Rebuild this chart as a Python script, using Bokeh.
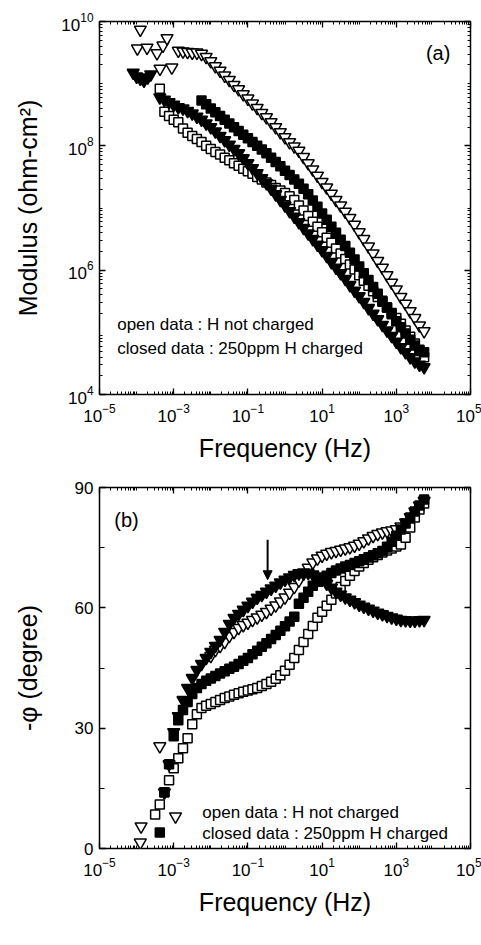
import math
from bokeh.plotting import figure
from bokeh.layouts import column
from bokeh.models import FixedTicker, LogAxis, LinearAxis, Label, Arrow, NormalHead
from bokeh.embed import file_html
from bokeh.resources import INLINE

nan = float("nan")

# ---------------- data ----------------
# frequency sweep (Hz), 8 points per decade
freq = [3.16e-4, 4.22e-4, 5.62e-4, 7.50e-4,
        1.00e-3, 1.33e-3, 1.78e-3, 2.37e-3, 3.16e-3, 4.22e-3, 5.62e-3, 7.50e-3,
        1.00e-2, 1.33e-2, 1.78e-2, 2.37e-2, 3.16e-2, 4.22e-2, 5.62e-2, 7.50e-2,
        1.00e-1, 1.33e-1, 1.78e-1, 2.37e-1, 3.16e-1, 4.22e-1, 5.62e-1, 7.50e-1,
        1.00, 1.33, 1.78, 2.37, 3.16, 4.22, 5.62, 7.50,
        10.0, 13.3, 17.8, 23.7, 31.6, 42.2, 56.2, 75.0,
        100, 133, 178, 237, 316, 422, 562, 750,
        1000, 1330, 1780, 2370, 3160, 4220, 5620]

# (a) log10 of modulus (ohm-cm2)
logmod_open_tri = [nan, nan, nan, nan, nan,
    9.53, 9.52, 9.51, 9.50, 9.50, 9.48, 9.43, 9.36, 9.28, 9.21,
    9.13, 9.06, 8.98, 8.91, 8.83, 8.76, 8.68, 8.61, 8.53, 8.46,
    8.38, 8.30, 8.22, 8.14, 8.06, 7.99, 7.92, 7.82, 7.72, 7.62,
    7.52, 7.42, 7.33, 7.23, 7.13, 7.04, 6.94, 6.84, 6.73, 6.61,
    6.50, 6.38, 6.27, 6.15, 6.04, 5.92, 5.80, 5.69, 5.57, 5.46,
    5.34, 5.23, 5.11, 5.02]
logmod_open_sq = [nan,
    8.92, 8.55, 8.48, 8.42, 8.38, 8.28, 8.21, 8.16, 8.11, 8.06,
    8.00, 7.95, 7.90, 7.86, 7.81, 7.77, 7.72, 7.68, 7.63, 7.59,
    7.55, 7.50, 7.46, 7.41, 7.37, 7.32, 7.28, 7.24,
    7.19, 7.13, 7.04, 6.96, 6.87, 6.78, 6.70, 6.61,
    6.52, 6.44, 6.35, 6.27, 6.18, 6.09, 6.01, 5.92,
    5.83, 5.75, 5.66, 5.57, 5.49, 5.40, 5.31, 5.23,
    5.14, 5.03, 4.93, 4.82, 4.70, 4.60]
logmod_closed_tri = [nan,
    8.78, 8.74, 8.70, 8.66, 8.62, 8.60, 8.56, 8.52, 8.47, 8.42,
    8.36, 8.30, 8.23, 8.16, 8.09, 8.02, 7.95, 7.88, 7.80, 7.72,
    7.64, 7.56, 7.48, 7.40, 7.31, 7.22, 7.13, 7.04, 6.95, 6.86,
    6.77, 6.68, 6.59, 6.50, 6.41, 6.32, 6.23, 6.13, 6.04, 5.95,
    5.86, 5.76, 5.67, 5.58, 5.49, 5.39, 5.30, 5.21, 5.12, 5.03,
    4.94, 4.85, 4.76, 4.68, 4.60, 4.53, 4.48, 4.44]
logmod_closed_sq = [nan, nan, nan, nan, nan, nan, nan, nan, nan, nan,
    8.73, 8.67, 8.60, 8.54, 8.48, 8.42, 8.36, 8.30, 8.24, 8.18,
    8.12, 8.06, 8.00, 7.94, 7.88, 7.81, 7.74, 7.67, 7.60, 7.53,
    7.46, 7.39, 7.31, 7.22, 7.12, 7.02, 6.91, 6.81, 6.70, 6.60,
    6.49, 6.39, 6.28, 6.17, 6.06, 5.95, 5.84, 5.73, 5.62, 5.51,
    5.40, 5.29, 5.18, 5.08, 4.98, 4.88, 4.79, 4.72, 4.68]

# (a) scattered low-frequency points
open_tri_low_freq = [1.26e-4, 1.05e-4, 1.91e-4, 3.55e-4, 5.13e-4, 6.61e-4, 4.27e-4, 8.91e-4]
open_tri_low_mod = [7.4e9, 3.7e9, 3.8e9, 3.1e9, 4.1e9, 5.4e9, 1.74e9, 1.82e9]
closed_tri_low_freq = [8.1e-5, 1.0e-4, 1.26e-4, 1.58e-4, 2.0e-4, 2.4e-4]
closed_tri_low_mod = [1.5e9, 1.3e9, 1.2e9, 1.12e9, 1.26e9, 1.41e9]

# (b) -phase angle (degree)
phase_open_tri = [nan, 25.5, nan, nan, nan, nan, nan, nan, nan, nan, nan, nan,
    48.0, 49.5, 50.5, 51.5, 53.0, 54.0, 55.0, 55.7, 56.3, 57.0, 57.6, 58.3, 59.0,
    59.8, 60.6, 61.6, 62.6, 63.8, 65.2, 66.8, 68.5, 70.0, 71.3,
    72.3, 73.0, 73.5, 73.9, 74.2, 74.5, 74.8, 75.1, 75.5, 76.0,
    76.6, 77.3, 77.9, 78.4, 78.8, 79.1, 79.3, 79.6, 80.3, 81.3,
    82.6, 84.0, 85.5, 86.7]
phase_open_sq = [8.5, 11.0, 14.0, 17.0, 20.0, 22.5, 25.0, 27.5, 31.0, 33.5,
    35.0, 35.6, 36.0, 36.5, 37.0, 37.5, 37.9, 38.3, 38.7, 39.1,
    39.4, 39.7, 40.0, 40.5, 41.0, 41.6, 42.3, 43.2, 44.3, 45.8,
    47.5, 49.5, 51.5, 53.5, 55.5, 57.5, 59.0, 60.5, 62.0, 63.6,
    65.2, 66.7, 68.0, 69.2, 70.3, 71.2, 72.0, 72.6, 73.2, 73.8,
    74.3, 74.8, 75.3, 75.8, 77.5, 80.0, 82.5, 84.5, 86.0]
phase_closed_tri = [nan, nan,
    14.0, 21.0, 29.0, 33.0, 37.0, 40.0, 42.5, 44.5, 46.0, 47.5,
    49.0, 50.5, 52.0, 54.0, 56.0, 57.5, 58.5, 59.5, 60.5, 61.5,
    62.5, 63.2, 64.0, 64.8, 65.5, 66.3, 67.0, 67.6, 68.2, 68.6,
    68.8, 68.7, 68.3, 67.8, 67.0, 66.0, 65.0, 64.0, 63.3, 62.6,
    62.0, 61.4, 60.8, 60.3, 59.8, 59.3, 58.8, 58.4, 58.0, 57.6,
    57.3, 57.0, 56.9, 56.8, 56.8, 56.9, 57.0]
phase_closed_sq = [nan,
    4.0, 14.0, 21.0, 28.0, 32.0, 34.5, 36.5, 38.5, 40.0, 41.0,
    41.8, 42.4, 43.0, 43.6, 44.2, 44.8, 45.3, 46.0, 46.8, 47.5,
    48.4, 49.3, 50.3, 51.2, 52.2, 53.2, 54.3, 55.4,
    56.6, 57.8, 61.0, 62.5, 64.0, 65.5, 66.5, 67.3,
    68.0, 68.7, 69.3, 69.8, 70.3, 70.7, 71.2, 71.6,
    72.1, 72.6, 73.1, 73.6, 74.2, 75.2, 76.5, 78.0,
    79.5, 81.0, 82.5, 84.0, 85.5, 87.0]
open_tri_low_freq_b = [1.26e-4, 1.32e-4, 1.12e-3]
open_tri_low_phase_b = [1.5, 5.5, 8.0]

x_ticks = [1e-5, 1e-3, 1e-1, 1e1, 1e3, 1e5]
mod_ticks = [1e4, 1e6, 1e8, 1e10]
phase_ticks = [0, 30, 60, 90]

FONT = "Liberation Sans"

def minor_log(lo, hi):
    out = []
    for e in range(lo, hi):
        for m in range(1, 10):
            v = m * 10.0 ** e
            if v not in x_ticks and v not in mod_ticks:
                out.append(v)
    return out

def style_axis(ax, show_labels=True):
    ax.axis_line_color = None
    ax.major_tick_in = 6
    ax.major_tick_out = 0
    ax.minor_tick_in = 3
    ax.minor_tick_out = 0
    ax.major_tick_line_color = "black"
    ax.minor_tick_line_color = "black"
    ax.major_tick_line_width = 1.3
    ax.minor_tick_line_width = 1
    ax.major_label_text_font = FONT
    ax.axis_label_text_font = FONT
    ax.axis_label_text_font_style = "normal"
    ax.axis_label_text_color = "black"
    if show_labels:
        ax.major_label_text_font_size = "17px"
        ax.major_label_text_color = "black"
        ax.major_label_standoff = 9
    else:
        ax.major_label_text_font_size = "2px"
        ax.major_label_text_alpha = 0.0
        ax.major_label_standoff = 0

def base_fig(width, height, y_type, y_range, borders):
    p = figure(width=width, height=height, x_axis_type="log", y_axis_type=y_type,
               x_range=(1e-5, 1e5), y_range=y_range,
               output_backend="svg", toolbar_location=None)
    p.min_border_left, p.min_border_right, p.min_border_top, p.min_border_bottom = borders
    p.grid.visible = False
    p.outline_line_color = "black"
    p.outline_line_width = 1.5
    p.background_fill_color = "white"
    p.border_fill_color = "white"
    return p

def draw_markers(p, x, y, marker, filled, size):
    p.scatter(x, y, marker=marker, size=size,
              fill_color="black" if filled else "white",
              line_color="black", line_width=1.5)

def add_text(p, x, y, text, size):
    p.add_layout(Label(x=x, y=y, text=text, text_font=FONT, text_font_size=size,
                       text_color="black", text_baseline="middle"))

x_ticker = FixedTicker(ticks=x_ticks, minor_ticks=minor_log(-5, 5))

# ---------------- panel (a) ----------------
p1 = base_fig(481, 480, "log", (1e4, 1e10), (99, 8, 21, 86))
mod_ticker = FixedTicker(ticks=mod_ticks, minor_ticks=minor_log(4, 10))
p1.xaxis.ticker = x_ticker
p1.yaxis.ticker = mod_ticker
style_axis(p1.xaxis[0])
style_axis(p1.yaxis[0])
p1.yaxis[0].major_label_standoff = 6
p1.xaxis.axis_label = "Frequency (Hz)"
p1.xaxis.axis_label_text_font_size = "25px"
p1.xaxis.axis_label_standoff = 9
p1.yaxis.axis_label = "Modulus (ohm-cm²)"
p1.yaxis.axis_label_text_font_size = "25px"
p1.yaxis.axis_label_standoff = 16
ax_top = LogAxis(ticker=x_ticker)
style_axis(ax_top, False)
p1.add_layout(ax_top, "above")
ax_right = LogAxis(ticker=mod_ticker)
style_axis(ax_right, False)
p1.add_layout(ax_right, "right")

to_mod = lambda arr: [10 ** v for v in arr]
draw_markers(p1, freq, to_mod(logmod_open_sq), "square", False, 9)
draw_markers(p1, freq, to_mod(logmod_open_tri), "inverted_triangle", False, 12)
draw_markers(p1, open_tri_low_freq, open_tri_low_mod, "inverted_triangle", False, 12)
draw_markers(p1, freq, to_mod(logmod_closed_sq), "square", True, 9)
draw_markers(p1, freq, to_mod(logmod_closed_tri), "inverted_triangle", True, 12)
draw_markers(p1, closed_tri_low_freq, closed_tri_low_mod, "inverted_triangle", True, 12)

add_text(p1, 3.0e-5, 1.35e5, "open data : H not charged", "17px")
add_text(p1, 3.0e-5, 5.4e4, "closed data : 250ppm H charged", "17px")
add_text(p1, 6.3e3, 3.1e9, "(a)", "20px")

# ---------------- panel (b) ----------------
p2 = base_fig(481, 465, "linear", (0, 90), (95, 11, 7, 97))
ph_ticker = FixedTicker(ticks=phase_ticks, minor_ticks=[15, 45, 75])
p2.xaxis.ticker = x_ticker
p2.yaxis.ticker = ph_ticker
style_axis(p2.xaxis[0])
style_axis(p2.yaxis[0])
p2.yaxis[0].major_label_standoff = 6
p2.yaxis[0].minor_tick_in = 5
p2.xaxis.axis_label = "Frequency (Hz)"
p2.xaxis.axis_label_text_font_size = "25px"
p2.xaxis.axis_label_standoff = 9
p2.yaxis.axis_label = "-φ (degree)"
p2.yaxis.axis_label_text_font_size = "25px"
p2.yaxis.axis_label_standoff = 30
bx_top = LogAxis(ticker=x_ticker)
style_axis(bx_top, False)
p2.add_layout(bx_top, "above")
bx_right = LinearAxis(ticker=ph_ticker)
style_axis(bx_right, False)
bx_right.minor_tick_in = 5
p2.add_layout(bx_right, "right")

draw_markers(p2, freq, phase_open_tri, "inverted_triangle", False, 12)
draw_markers(p2, open_tri_low_freq_b, open_tri_low_phase_b, "inverted_triangle", False, 12)
draw_markers(p2, freq, phase_open_sq, "square", False, 9)
draw_markers(p2, freq, phase_closed_sq, "square", True, 9)
draw_markers(p2, freq, phase_closed_tri, "inverted_triangle", True, 12)

add_text(p2, 5.9e-3, 9.0, "open data : H not charged", "17px")
add_text(p2, 5.9e-3, 3.7, "closed data : 250ppm H charged", "17px")
add_text(p2, 2.5e-5, 82.0, "(b)", "20px")
arrow_x = 0.34
arrow_from, arrow_to = 77.0, 67.0
p2.add_layout(Arrow(end=NormalHead(size=9, fill_color="black", line_color="black"),
                    x_start=arrow_x, y_start=arrow_from, x_end=arrow_x, y_end=arrow_to,
                    line_width=2, line_color="black"))

layout = column(p1, p2, spacing=0)
open("out.html", "w").write(file_html(layout, INLINE))
